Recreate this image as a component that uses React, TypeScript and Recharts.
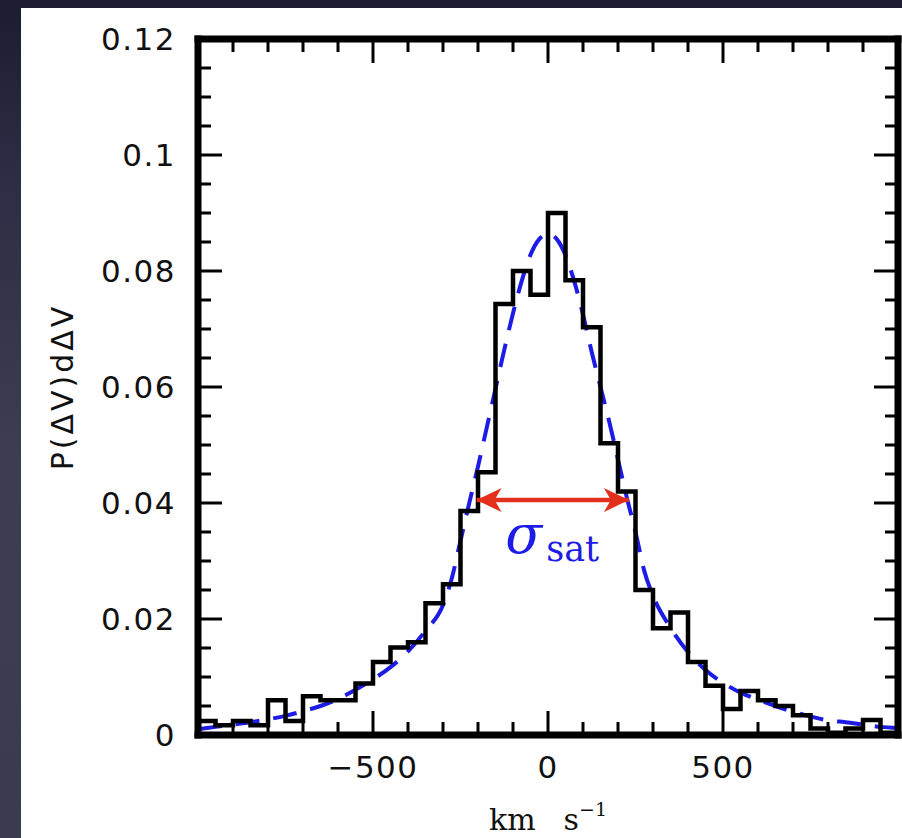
import { Line, LineChart, ReferenceDot, XAxis, YAxis } from 'recharts'

// histogram bin edges (km/s) and heights P(dV)ddV
const binEdges = [
  -1000, -950, -900, -850, -800, -750, -700, -650, -600, -550, -500, -450, -400, -350, -300, -250, -200, -150, -100, -50,
  0, 50, 100, 150, 200, 250, 300, 350, 400, 450, 500, 550, 600, 650, 700, 750, 800, 850, 900, 950, 1000,
]
const binHeights = [
  0.0024, 0.0017, 0.0024, 0.0017, 0.006, 0.0024, 0.0067, 0.006, 0.006, 0.0089, 0.0126, 0.0151, 0.016, 0.0227, 0.026,
  0.0386, 0.0453, 0.0743, 0.08, 0.0759, 0.09, 0.0784, 0.0703, 0.0503, 0.042, 0.025, 0.0184, 0.0211, 0.0126, 0.0085,
  0.0045, 0.0076, 0.006, 0.005, 0.0034, 0.0011, 0.0004, 0.0011, 0.0026, 0.0004,
]

// dashed fit curve
const fitVelocity = [
  -1000, -950, -900, -850, -800, -750, -700, -650, -600, -550, -500, -450, -400, -350, -300, -275, -250, -225, -200,
  -175, -150, -125, -100, -75, -50, -25, 0, 25, 50, 75, 100, 125, 150, 175, 200, 225, 250, 275, 300, 350, 400, 450,
  500, 550, 600, 650, 700, 750, 800, 850, 900, 950, 1000,
]
const fitDensity = [
  0.001, 0.0014, 0.0018, 0.0022, 0.0027, 0.0033, 0.0041, 0.005, 0.0062, 0.0078, 0.0096, 0.0117, 0.0144, 0.018, 0.0224,
  0.027, 0.0335, 0.04, 0.0463, 0.053, 0.0597, 0.0664, 0.0727, 0.0783, 0.0828, 0.0855, 0.0864, 0.0855, 0.0827, 0.0782,
  0.0725, 0.066, 0.06, 0.054, 0.0475, 0.041, 0.035, 0.0283, 0.024, 0.0185, 0.0143, 0.0112, 0.009, 0.0073, 0.0061, 0.005,
  0.004, 0.0032, 0.0025, 0.0022, 0.0018, 0.0014, 0.0012,
]

// sigma_sat arrow
const arrowEnds = [-204, 231]
const arrowLevel = 0.0405
const sigmaLabelAt = { x: -122, y: 0.0314 }

const xTicks = [-1000, -900, -800, -700, -600, -500, -400, -300, -200, -100, 0, 100, 200, 300, 400, 500, 600, 700, 800, 900, 1000]
const yTicks = [
  0, 0.005, 0.01, 0.015, 0.02, 0.025, 0.03, 0.035, 0.04, 0.045, 0.05, 0.055, 0.06, 0.065, 0.07, 0.075, 0.08, 0.085, 0.09,
  0.095, 0.1, 0.105, 0.11, 0.115, 0.12,
]

const histData = binEdges.map((x, i) => ({ x, v: binHeights[Math.min(i, binHeights.length - 1)] }))
const fitData = fitVelocity.map((x, i) => ({ x, v: fitDensity[i] }))
const arrowData = arrowEnds.map((x) => ({ x, v: arrowLevel }))

const INK = '#111'
const BLUE = '#1c1ce6'
const RED = '#e3301c'
const TICK_FONT = 'DejaVu Sans'
const MAJOR = 24
const MINOR = 13

const isMajorX = (v: number) => v % 500 === 0
const isMajorY = (v: number) => Math.round(v * 1000) % 20 === 0
const fmtX = (v: number) => (v < 0 ? `\u2212${Math.abs(v)}` : `${v}`)
const fmtY = (v: number) => `${parseFloat(v.toFixed(3))}`

const BottomTick = (props: any) => {
  const { x, y, payload } = props
  const v = payload.value
  const major = isMajorX(v)
  return (
    <g>
      <line x1={x} y1={y} x2={x} y2={y - (major ? MAJOR : MINOR)} stroke="#000" strokeWidth={3} />
      {major && Math.abs(v) < 1000 && (
        <text x={x} y={y + 43} textAnchor="middle" fontFamily={TICK_FONT} fontSize={31} letterSpacing={1.5} fill={INK}>
          {fmtX(v)}
        </text>
      )}
    </g>
  )
}

const TopTick = (props: any) => {
  const { x, y, payload } = props
  const len = isMajorX(payload.value) ? MAJOR : MINOR
  return <line x1={x} y1={y} x2={x} y2={y + len} stroke="#000" strokeWidth={3} />
}

const LeftTick = (props: any) => {
  const { x, y, payload } = props
  const v = payload.value
  const major = isMajorY(v)
  return (
    <g>
      <line x1={x} y1={y} x2={x + (major ? MAJOR : MINOR)} y2={y} stroke="#000" strokeWidth={3} />
      {major && (
        <text x={x - 22} y={y + 11} textAnchor="end" fontFamily={TICK_FONT} fontSize={31} letterSpacing={1.5} fill={INK}>
          {fmtY(v)}
        </text>
      )}
    </g>
  )
}

const RightTick = (props: any) => {
  const { x, y, payload } = props
  const len = isMajorY(payload.value) ? MAJOR : MINOR
  return <line x1={x} y1={y} x2={x - len} y2={y} stroke="#000" strokeWidth={3} />
}

const ArrowHead = (props: any) => {
  const { cx, cy, index } = props
  const dir = index === 0 ? -1 : 1
  const L = 25
  const H = 12
  const notch = 7
  const pts = [
    [cx, cy],
    [cx - dir * L, cy - H],
    [cx - dir * (L - notch), cy],
    [cx - dir * L, cy + H],
  ]
  return <polygon key={`head-${index}`} points={pts.map((p) => p.join(',')).join(' ')} fill={RED} />
}

const SigmaLabel = (props: any) => {
  const { viewBox } = props
  const x = viewBox.x + viewBox.width / 2
  const y = viewBox.y + viewBox.height / 2
  return (
    <text x={x} y={y} fill={BLUE} fontFamily="DejaVu Serif">
      <tspan fontStyle="italic" fontSize={54}>σ</tspan>
      <tspan fontSize={35} dx={4} dy={8}>sat</tspan>
    </text>
  )
}

const XLabel = (props: any) => {
  const { viewBox } = props
  const cx = viewBox.x + viewBox.width / 2
  return (
    <text x={cx} y={viewBox.y + 95} textAnchor="middle" fontFamily="DejaVu Serif" fontSize={30} fill={INK}>
      <tspan>km</tspan>
      <tspan dx={28}>s</tspan>
      <tspan dy={-14} fontSize={19}>{'\u22121'}</tspan>
    </text>
  )
}

const YLabel = (props: any) => {
  const { viewBox } = props
  const cx = viewBox.x - 36
  const cy = viewBox.y + viewBox.height / 2
  return (
    <text
      x={cx}
      y={cy}
      transform={`rotate(-90 ${cx} ${cy})`}
      textAnchor="middle"
      dominantBaseline="central"
      fontFamily={TICK_FONT}
      fontSize={30}
      letterSpacing={3}
      fill={INK}
    >
      P(ΔV)dΔV
    </text>
  )
}

const frame = { stroke: '#000', strokeWidth: 7, strokeLinecap: 'square' as const }

export default function App() {
  return (
    <div
      style={{
        position: 'fixed',
        left: 0,
        top: 0,
        width: 902,
        height: 838,
        overflow: 'hidden',
        background: 'linear-gradient(180deg, #1b1c31 0%, #2c2d44 20%, #3d3e53 55%, #3a3b4f 100%)',
      }}
    >
      <div style={{ position: 'absolute', left: 21, top: 8, right: 0, bottom: 0, background: '#fff' }} />
      <div style={{ position: 'absolute', left: 0, top: 0 }}>
        <LineChart width={902} height={838} margin={{ top: 38, right: 3, bottom: 43, left: 98 }}>
          <XAxis
            type="number"
            dataKey="x"
            domain={[-1000, 1000]}
            ticks={xTicks}
            interval={0}
            allowDataOverflow
            height={60}
            tickSize={0}
            tickMargin={0}
            tickLine={false}
            axisLine={frame}
            tick={<BottomTick />}
            label={<XLabel />}
          />
          <XAxis
            xAxisId="top"
            orientation="top"
            type="number"
            dataKey="x"
            domain={[-1000, 1000]}
            ticks={xTicks}
            interval={0}
            allowDataOverflow
            height={1}
            tickSize={0}
            tickMargin={0}
            tickLine={false}
            axisLine={frame}
            tick={<TopTick />}
          />
          <YAxis
            type="number"
            domain={[0, 0.12]}
            ticks={yTicks}
            interval={0}
            allowDataOverflow
            width={100}
            tickSize={0}
            tickMargin={0}
            tickLine={false}
            axisLine={frame}
            tick={<LeftTick />}
            label={<YLabel />}
          />
          <YAxis
            yAxisId="right"
            orientation="right"
            type="number"
            domain={[0, 0.12]}
            ticks={yTicks}
            interval={0}
            allowDataOverflow
            width={1}
            tickSize={0}
            tickMargin={0}
            tickLine={false}
            axisLine={frame}
            tick={<RightTick />}
          />
          <Line
            data={fitData}
            dataKey="v"
            type="monotone"
            stroke={BLUE}
            strokeWidth={4}
            strokeDasharray="24 14"
            dot={false}
            activeDot={false}
            isAnimationActive={false}
          />
          <Line
            data={histData}
            dataKey="v"
            type="stepAfter"
            stroke="#000"
            strokeWidth={4.5}
            dot={false}
            activeDot={false}
            isAnimationActive={false}
          />
          <Line
            data={arrowData}
            dataKey="v"
            type="linear"
            stroke={RED}
            strokeWidth={4.5}
            dot={ArrowHead}
            activeDot={false}
            isAnimationActive={false}
          />
          <ReferenceDot x={sigmaLabelAt.x} y={sigmaLabelAt.y} r={1} fill="none" stroke="none" label={SigmaLabel} />
        </LineChart>
      </div>
    </div>
  )
}
